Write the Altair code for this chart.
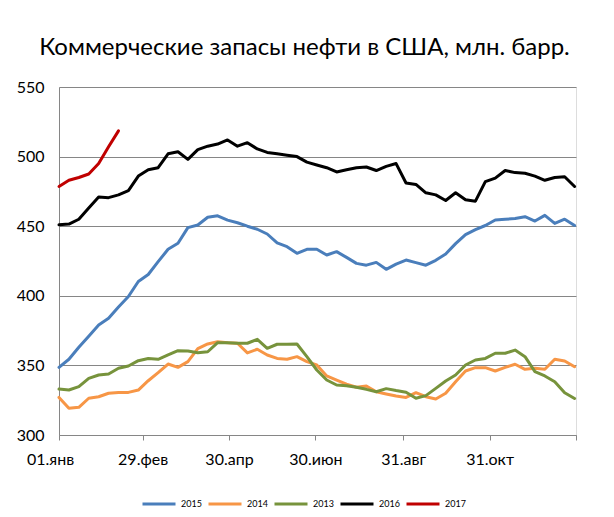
import json
import altair as alt
import pandas as pd

# ---- data ----
series_names = ["2015", "2014", "2013", "2016", "2017"]
series_colors = ["#4A7EBB", "#F79646", "#77933C", "#000000", "#C00000"]

# weekly observations, position = day offset from 01 Jan
week_days = list(range(0, 365, 7))

values_2015 = [348.6, 354.4, 363, 371, 379, 383.8, 392, 399.5, 410.3, 415.3,
               424.5, 433.4, 437.7, 449, 450.9, 456.4, 457.5, 454.4, 452.5, 450,
               447.8, 444.4, 438, 435.3, 430.5, 433.4, 433.4, 429.3, 431.7, 427.6,
               423.3, 422, 424, 419, 422.8, 425.7, 423.8, 422, 425.5, 430,
               437.5, 444, 447.5, 450.5, 454.5, 455, 455.5, 456.8, 453.7, 457.8,
               452, 455, 450.5]
values_2014 = [327, 319.2, 319.9, 326.4, 327.5, 330, 330.6, 330.6, 332.3, 339,
               344.8, 351, 348.6, 352.7, 362, 365.4, 367, 366.3, 365.9, 359,
               361.6, 357.5, 355, 354.4, 356.3, 352.7, 350.3, 342.4, 339.5, 336.6,
               334.3, 335.2, 331.1, 329.5, 328, 327, 330.4, 327.5, 325.9, 330,
               338.3, 346, 348.4, 348.4, 346, 348.6, 350.8, 347.2, 347.9, 347.2,
               354.4, 353.2, 349]
values_2013 = [333, 332.3, 334.7, 340.7, 343.1, 343.8, 347.9, 349.6, 353.4, 355,
               354.4, 357.5, 360.6, 360.3, 359.1, 359.8, 366.3, 366.3, 365.9, 365.9,
               368.7, 362.3, 365.2, 365.2, 365.4, 356.3, 346.7, 339.5, 335.9, 335.4,
               334.3, 332.8, 331.1, 333.3, 331.9, 330.7, 326.4, 328.3, 333.5, 338.8,
               343.1, 350.3, 353.9, 355, 358.7, 358.7, 361, 356.3, 345.5, 342.4,
               338.3, 330.4, 326.2]
values_2016 = [451, 451.5, 455, 463, 471, 470.5, 472.5, 475.5, 486, 490.5,
               492, 502, 503.5, 498, 505, 507.5, 509, 512, 507.5, 510,
               505.5, 503, 502, 501, 500, 496, 494, 492, 489, 490.5,
               492, 492.5, 490, 493, 495, 481, 480, 474, 472.5, 468.5,
               474, 469, 468, 482, 484.5, 490, 488.5, 488, 486, 483,
               485, 485.5, 478.5]
values_2017 = [478.5, 483, 485, 487.5, 495, 507, 518.5]

tick_days = [0, 59, 120, 181, 243, 304, 365]
tick_labels = ["01.янв", "29.фев", "30.апр", "30.июн", "31.авг", "31.окт", ""]
y_ticks = [300, 350, 400, 450, 500, 550]

title_text = "Коммерческие запасы нефти в США, млн. барр."

# ---- table ----
rows = []
all_values = [values_2015, values_2014, values_2013, values_2016, values_2017]
for name, vals in zip(series_names, all_values):
    for d, v in zip(week_days, vals):
        rows.append({"day": d, "value": v, "series": name})
df = pd.DataFrame(rows)

label_map = json.dumps({str(d): l for d, l in zip(tick_days, tick_labels)}, ensure_ascii=False)
label_expr = f"{label_map}[''+datum.value]"

FONT = "Lato"
GRID = "#868686"

layers = []
for name in series_names:
    layers.append(
        alt.Chart(df).transform_filter(alt.datum.series == name)
        .mark_line(strokeWidth=3, strokeJoin="round", strokeCap="round")
        .encode(
            x=alt.X("day:Q",
                    scale=alt.Scale(domain=[0, 365], nice=False, zero=False),
                    axis=alt.Axis(values=tick_days, labelExpr=label_expr, title=None,
                                  grid=False, domainColor=GRID, tickColor=GRID,
                                  tickSize=5, labelPadding=11, labelFontSize=16,
                                  labelFont=FONT, labelColor="#000000", labelFlush=False,
                                  labelOffset={"condition": {"test": "datum.value == 0", "value": -9}, "value": 0})),
            y=alt.Y("value:Q",
                    scale=alt.Scale(domain=[300, 550], nice=False, zero=False),
                    axis=alt.Axis(values=y_ticks, title=None, grid=True, gridColor=GRID,
                                  ticks=False, domainColor=GRID, labelPadding=15,
                                  labelFontSize=16, labelFont=FONT, labelColor="#000000")),
            color=alt.Color("series:N",
                            scale=alt.Scale(domain=series_names, range=series_colors),
                            legend=alt.Legend(orient="none", legendX=82, legendY=399,
                                              direction="horizontal", title=None,
                                              symbolType="stroke", symbolSize=1089,
                                              symbolStrokeWidth=3, labelFontSize=9,
                                              labelFont=FONT, labelColor="#000000",
                                              labelOffset=4, columnPadding=0, padding=0)),
        )
    )

chart = alt.layer(*layers).properties(
    width=517,
    height=348,
    title=alt.TitleParams(title_text, font=FONT, fontSize=24, fontWeight="normal",
                          color="#000000", anchor="middle", frame="group", dx=-13,
                          offset=0, baseline="alphabetic"),
    autosize=alt.AutoSizeParams(type="none"),
    padding={"left": 51, "top": 79, "right": 29, "bottom": 74},
).configure_view(stroke=None).configure(background="#ffffff")

chart.save("out.html", embed_options={"renderer": "svg", "actions": False})
